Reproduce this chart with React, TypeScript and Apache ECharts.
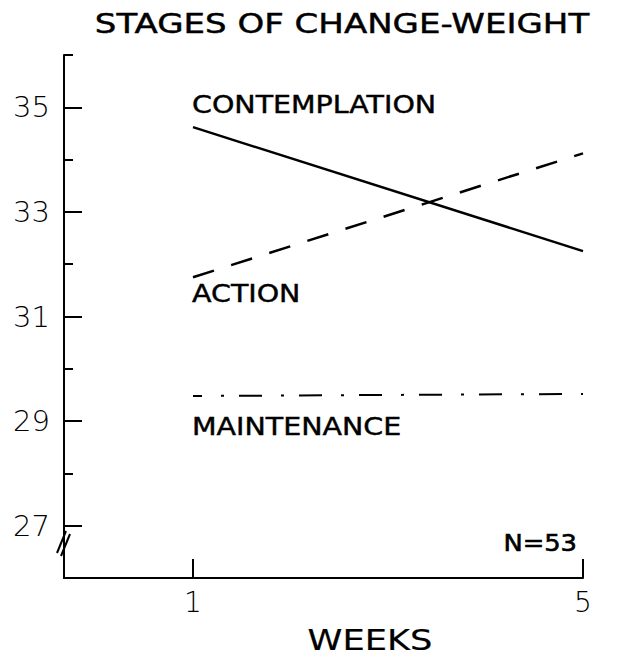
import { useEffect, useRef } from 'react';
import * as echarts from 'echarts';

const weeks = [1, 5];
const contemplation = [34.62, 32.25];
const action = [31.75, 34.12];
const maintenance = [29.48, 29.52];
const majorTicks = [27, 29, 31, 33, 35];
const minorTicks = [28, 30, 32, 34, 36];
const weekTicks = [1, 5];
const titleText = 'STAGES OF CHANGE-WEIGHT';
const xName = 'WEEKS';
const sampleNote = 'N=53';

export default function App() {
  const ref = useRef<HTMLDivElement>(null);
  useEffect(() => {
    const chart = echarts.init(ref.current!, null, { renderer: 'svg' });
    const font = 'DejaVu Sans';
    const pairs = (ys: number[]) => weeks.map((w, i) => [w, ys[i]]);
    const lbl = (text: string, x: number, y: number) => ({
      type: 'text', x, y, scaleX: 1.14,
      style: { text, fontFamily: font, fontSize: 25, fill: '#000', stroke: '#000', lineWidth: 0.45, align: 'left', verticalAlign: 'middle' },
    });
    chart.setOption({
      animation: false,
      backgroundColor: '#fff',
      grid: { left: 64, top: 55, right: 56, bottom: 80 },
      xAxis: {
        type: 'value', min: -0.323, max: 5,
        axisLine: { onZero: false, lineStyle: { color: '#000', width: 2 } },
        axisTick: { customValues: weekTicks, inside: true, length: 19, lineStyle: { color: '#000', width: 2 } },
        axisLabel: { customValues: weekTicks, color: '#000', fontFamily: font, fontSize: 28, margin: 10, fontWeight: 'lighter' },
        splitLine: { show: false },
      },
      yAxis: [
        {
          type: 'value', min: 26, max: 36, interval: 1,
          axisLine: { show: true, onZero: false, lineStyle: { color: '#000', width: 2 } },
          axisTick: { show: true, customValues: majorTicks, inside: true, length: 18, lineStyle: { color: '#000', width: 2 } },
          axisLabel: { customValues: majorTicks, color: '#000', fontFamily: font, fontSize: 29, margin: 14, fontWeight: 'lighter' },
          splitLine: { show: false },
        },
        {
          type: 'value', min: 26, max: 36, interval: 1, position: 'left',
          axisLine: { show: false, onZero: false },
          axisTick: { show: true, customValues: minorTicks, inside: true, length: 9, lineStyle: { color: '#000', width: 2 } },
          axisLabel: { show: false },
          splitLine: { show: false },
        },
      ],
      series: [
        { name: 'CONTEMPLATION', type: 'line', symbol: 'none', data: pairs(contemplation), lineStyle: { color: '#000', width: 2.5, type: 'solid' } },
        { name: 'ACTION', type: 'line', symbol: 'none', data: pairs(action), lineStyle: { color: '#000', width: 2.5, type: [22, 18] } },
        { name: 'MAINTENANCE', type: 'line', symbol: 'none', data: pairs(maintenance), lineStyle: { color: '#000', width: 2, type: [23, 19, 3, 15], dashOffset: 14 } },
      ],
      graphic: [
        {
          type: 'text', x: 342, y: 23, scaleX: 1.26,
          style: { text: titleText, fontFamily: font, fontSize: 27, fill: '#000', stroke: '#000', lineWidth: 0.45, align: 'center', verticalAlign: 'middle' },
        },
        lbl('CONTEMPLATION', 192, 104),
        lbl('ACTION', 192, 293),
        lbl('MAINTENANCE', 192, 426),
        {
          type: 'text', x: 577, y: 543, scaleX: 1.12,
          style: { text: sampleNote, fontFamily: font, fontSize: 23, fill: '#000', stroke: '#000', lineWidth: 0.6, align: 'right', verticalAlign: 'middle' },
        },
        {
          type: 'text', x: 370, y: 640, scaleX: 1.26,
          style: { text: xName, fontFamily: font, fontSize: 28, fill: '#000', stroke: '#000', lineWidth: 0.2, align: 'center', verticalAlign: 'middle' },
        },
        { type: 'line', shape: { x1: 57, y1: 553, x2: 66, y2: 531 }, style: { stroke: '#000', lineWidth: 2 } },
        { type: 'line', shape: { x1: 61, y1: 556, x2: 70, y2: 534 }, style: { stroke: '#000', lineWidth: 2 } },
      ],
    });
    return () => chart.dispose();
  }, []);
  return <div ref={ref} style={{ width: 639, height: 658, position: 'absolute', left: 0, top: 0 }} />;
}
